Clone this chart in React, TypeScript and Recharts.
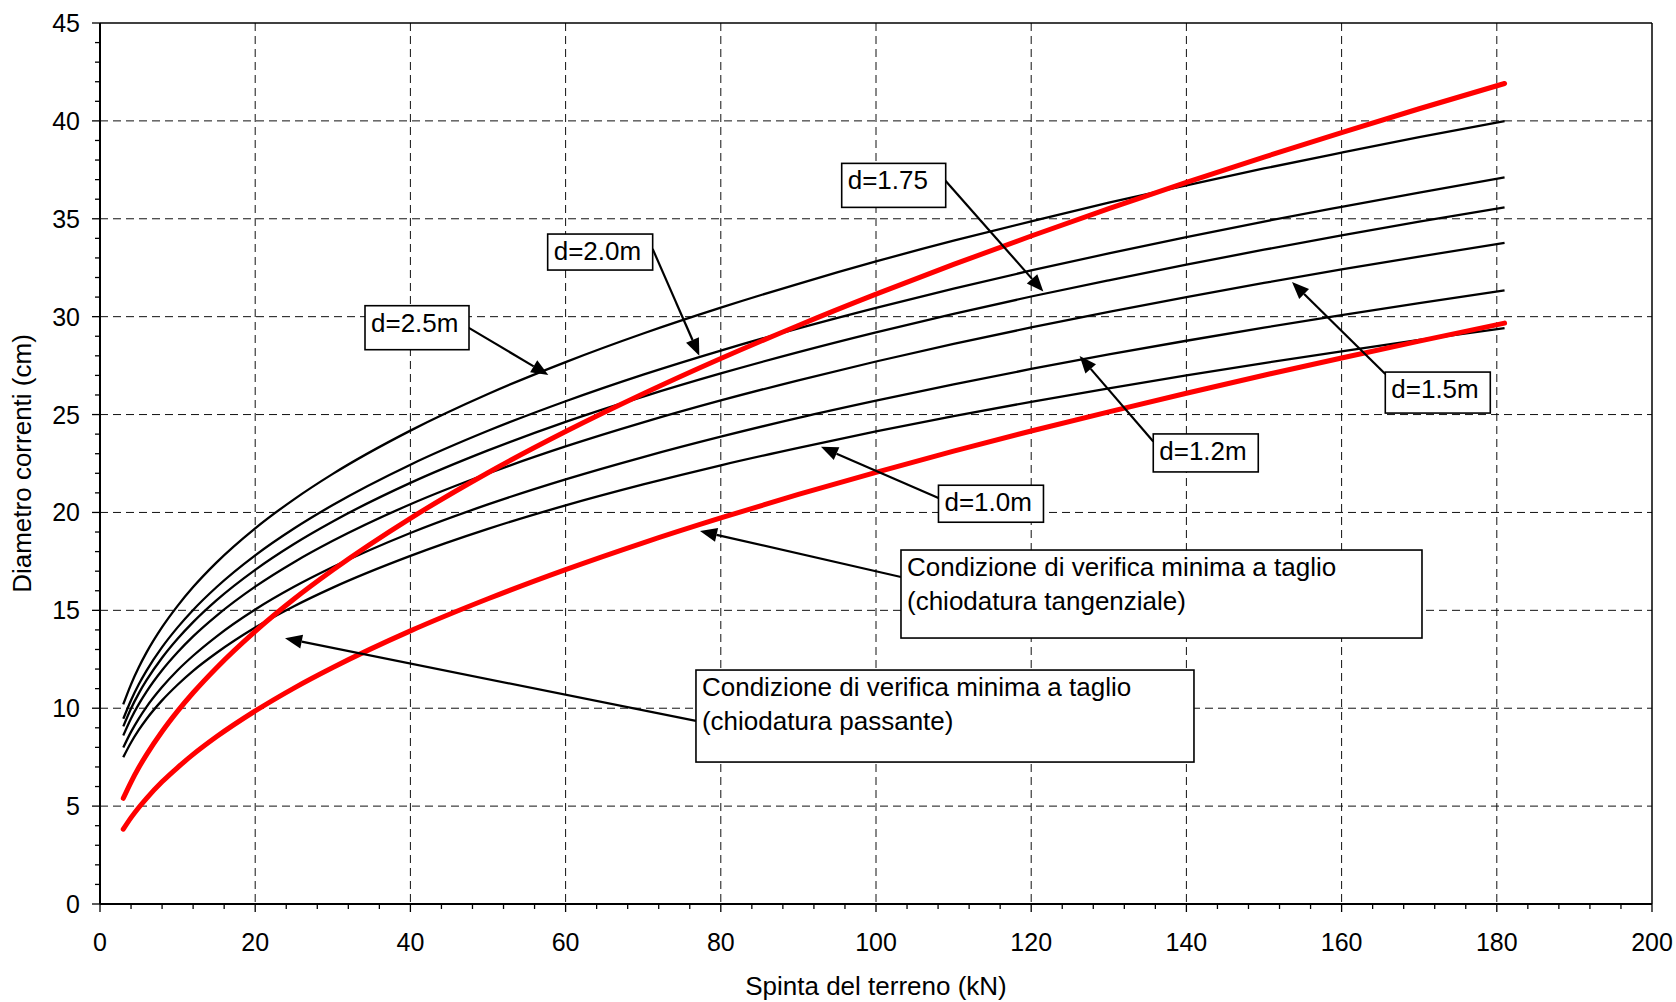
import React from "react";
import {
  LineChart,
  Line,
  XAxis,
  YAxis,
  CartesianGrid,
  ReferenceLine,
  ReferenceDot,
} from "recharts";

const FONT = "'Liberation Sans', Arial, sans-serif";

// spinta del terreno (kN)
const spinta = [3, 4, 5, 6, 8, 10, 12, 15, 20, 25, 30, 40, 50, 60, 70, 80, 90, 100, 110, 120, 130, 140, 150, 160, 170, 181];

// diametro correnti (cm) per interasse d
const d25 = [10.2, 11.22, 12.09, 12.85, 14.14, 15.23, 16.19, 17.44, 19.19, 20.67, 21.97, 24.18, 26.05, 27.68, 29.14, 30.46, 31.68, 32.82, 33.88, 34.87, 35.82, 36.71, 37.57, 38.38, 39.17, 39.99];
const d20 = [9.46, 10.41, 11.22, 11.92, 13.12, 14.13, 15.02, 16.18, 17.81, 19.18, 20.38, 22.44, 24.17, 25.68, 27.04, 28.27, 29.4, 30.45, 31.43, 32.36, 33.23, 34.06, 34.86, 35.61, 36.34, 37.11];
const d175 = [9.07, 9.99, 10.76, 11.43, 12.58, 13.55, 14.4, 15.51, 17.07, 18.39, 19.54, 21.51, 23.17, 24.63, 25.92, 27.1, 28.19, 29.2, 30.14, 31.03, 31.86, 32.66, 33.42, 34.15, 34.85, 35.58];
const d15 = [8.61, 9.48, 10.21, 10.85, 11.94, 12.86, 13.67, 14.72, 16.21, 17.46, 18.55, 20.42, 21.99, 23.37, 24.6, 25.72, 26.75, 27.71, 28.61, 29.45, 30.24, 31.0, 31.72, 32.41, 33.07, 33.77];
const d12 = [7.99, 8.79, 9.47, 10.07, 11.08, 11.94, 12.68, 13.66, 15.04, 16.2, 17.21, 18.95, 20.41, 21.69, 22.83, 23.87, 24.83, 25.71, 26.54, 27.33, 28.07, 28.77, 29.44, 30.08, 30.69, 31.34];
const d10 = [7.5, 8.25, 8.89, 9.45, 10.4, 11.2, 11.91, 12.82, 14.12, 15.21, 16.16, 17.78, 19.16, 20.36, 21.43, 22.41, 23.3, 24.14, 24.92, 25.65, 26.34, 27.0, 27.63, 28.23, 28.81, 29.42];

// condizioni di verifica minima a taglio
const tangenziale = [5.4, 6.23, 6.97, 7.63, 8.81, 9.85, 10.79, 12.06, 13.93, 15.58, 17.06, 19.7, 22.03, 24.13, 26.06, 27.86, 29.55, 31.15, 32.67, 34.12, 35.52, 36.86, 38.15, 39.4, 40.62, 41.91];
const passante = [3.82, 4.41, 4.93, 5.4, 6.24, 6.97, 7.64, 8.54, 9.86, 11.03, 12.08, 13.95, 15.59, 17.08, 18.45, 19.72, 20.92, 22.05, 23.13, 24.16, 25.14, 26.09, 27.01, 27.89, 28.75, 29.67];

// axis ticks
const xTicks = Array.from({ length: 51 }, (_, i) => i * 4);
const yTicks = Array.from({ length: 46 }, (_, i) => i);
const xGrid = [20, 40, 60, 80, 100, 120, 140, 160, 180];
const yGrid = [5, 10, 15, 20, 25, 30, 35, 40];

// annotations (data units)
const noteText = [
  ["d=2.5m"],
  ["d=2.0m"],
  ["d=1.75"],
  ["d=1.5m"],
  ["d=1.2m"],
  ["d=1.0m"],
  ["Condizione di verifica minima a taglio", "(chiodatura tangenziale)"],
  ["Condizione di verifica minima a taglio", "(chiodatura passante)"],
];
const noteBox = [
  [34.15, 30.56],
  [57.69, 34.22],
  [95.58, 37.83],
  [165.63, 27.17],
  [135.73, 24.01],
  [108.05, 21.39],
  [103.22, 18.08],
  [76.8, 11.95],
];
const arrowFrom = [
  [47.26, 29.49],
  [71.22, 33.46],
  [108.67, 37.07],
  [165.63, 27.07],
  [135.73, 23.62],
  [108.05, 20.74],
  [103.22, 16.7],
  [76.8, 9.35],
];
const arrowTo = [
  [57.77, 27.02],
  [77.23, 28.01],
  [121.56, 31.28],
  [153.61, 31.77],
  [126.24, 27.99],
  [92.91, 23.35],
  [77.32, 19.05],
  [23.84, 13.57],
];
// box sizes in px
const boxSize = [
  [104, 44],
  [105, 36],
  [104, 44],
  [105, 41],
  [105, 38],
  [105, 37],
  [521, 88],
  [498, 92],
];

const rows = spinta.map((x, i) => ({
  x,
  d25: d25[i],
  d20: d20[i],
  d175: d175[i],
  d15: d15[i],
  d12: d12[i],
  d10: d10[i],
  tangenziale: tangenziale[i],
  passante: passante[i],
}));

const XTick = (props: any) => {
  const { x, y, payload } = props;
  const major = payload.value % 20 === 0;
  return (
    <g>
      <line x1={x} y1={y} x2={x} y2={y + (major ? 8 : 5)} stroke="#000" strokeWidth={1.3} />
      {major && (
        <text x={x} y={y + 47} textAnchor="middle" fontSize={25} fontFamily={FONT} fill="#000">
          {payload.value}
        </text>
      )}
    </g>
  );
};

const YTick = (props: any) => {
  const { x, y, payload } = props;
  const major = payload.value % 5 === 0;
  return (
    <g>
      <line x1={x - (major ? 8 : 5)} y1={y} x2={x} y2={y} stroke="#000" strokeWidth={1.3} />
      {major && (
        <text x={x - 20} y={y + 9} textAnchor="end" fontSize={25} fontFamily={FONT} fill="#000">
          {payload.value}
        </text>
      )}
    </g>
  );
};

const Arrow = (p: any) => {
  const { x1, y1, x2, y2 } = p;
  const a = Math.atan2(y2 - y1, x2 - x1);
  const len = 17;
  const w = 7;
  const bx = x2 - len * Math.cos(a);
  const by = y2 - len * Math.sin(a);
  const pts = `${x2},${y2} ${bx - w * Math.sin(a)},${by + w * Math.cos(a)} ${bx + w * Math.sin(a)},${by - w * Math.cos(a)}`;
  return (
    <g>
      <line x1={x1} y1={y1} x2={bx} y2={by} stroke="#000" strokeWidth={2.2} />
      <polygon points={pts} fill="#000" />
    </g>
  );
};

const makeBox = (lines: string[], w: number, h: number) => (p: any) => (
  <g>
    <rect x={p.cx} y={p.cy} width={w} height={h} fill="#fff" stroke="#000" strokeWidth={1.6} />
    {lines.map((t, k) => (
      <text
        key={k}
        x={p.cx + 6}
        y={p.cy + 26 + k * 34}
        fontSize={26}
        fontFamily={FONT}
        fill="#000"
      >
        {t}
      </text>
    ))}
  </g>
);

const blackKeys = ["d25", "d20", "d175", "d15", "d12", "d10"];

export default function App() {
  return (
    <div style={{ position: "absolute", left: 0, top: 0, background: "#fff" }}>
      <LineChart
        width={1676}
        height={1002}
        data={rows}
        margin={{ top: 23, right: 24, bottom: 8, left: 10 }}
      >
        <CartesianGrid
          stroke="#111"
          strokeWidth={1}
          strokeDasharray="8 5"
          horizontalValues={yGrid}
          verticalValues={xGrid}
        />
        <XAxis
          dataKey="x"
          type="number"
          domain={[0, 200]}
          ticks={xTicks}
          interval={0}
          height={90}
          tickSize={0}
          tickMargin={0}
          tickLine={false}
          tick={<XTick />}
          axisLine={{ stroke: "#000", strokeWidth: 2 }}
          label={{
            content: (lp: any) => {
              const vb = lp.viewBox || { x: 100, y: 904, width: 1552, height: 90 };
              return (
                <text
                  x={vb.x + vb.width / 2}
                  y={vb.y + 91}
                  textAnchor="middle"
                  fontSize={26}
                  fontFamily={FONT}
                  fill="#000"
                >
                  Spinta del terreno (kN)
                </text>
              );
            },
          }}
        />
        <YAxis
          type="number"
          domain={[0, 45]}
          ticks={yTicks}
          interval={0}
          width={90}
          tickSize={0}
          tickMargin={0}
          tickLine={false}
          tick={<YTick />}
          axisLine={{ stroke: "#000", strokeWidth: 2 }}
          label={{
            content: (lp: any) => {
              const vb = lp.viewBox || { x: 10, y: 23, width: 90, height: 881 };
              const cx = vb.x + 21;
              const cy = vb.y + vb.height / 2;
              return (
                <text
                  x={cx}
                  y={cy}
                  transform={`rotate(-90 ${cx} ${cy})`}
                  textAnchor="middle"
                  fontSize={26}
                  fontFamily={FONT}
                  fill="#000"
                >
                  Diametro correnti (cm)
                </text>
              );
            },
          }}
        />
        <ReferenceLine y={45} stroke="#000" strokeWidth={1.5} />
        <ReferenceLine x={200} stroke="#000" strokeWidth={1.5} />
        {blackKeys.map((k) => (
          <Line
            key={k}
            type="monotone"
            dataKey={k}
            stroke="#000"
            strokeWidth={2.3}
            dot={false}
            activeDot={false}
            isAnimationActive={false}
          />
        ))}
        <Line
          type="monotone"
          dataKey="tangenziale"
          stroke="#ff0000"
          strokeWidth={5}
          strokeLinecap="round"
          dot={false}
          activeDot={false}
          isAnimationActive={false}
        />
        <Line
          type="monotone"
          dataKey="passante"
          stroke="#ff0000"
          strokeWidth={5}
          strokeLinecap="round"
          dot={false}
          activeDot={false}
          isAnimationActive={false}
        />
        {arrowFrom.map((f, i) => (
          <ReferenceLine
            key={`a${i}`}
            segment={[
              { x: f[0], y: f[1] },
              { x: arrowTo[i][0], y: arrowTo[i][1] },
            ]}
            ifOverflow="visible"
            shape={Arrow}
          />
        ))}
        {noteBox.map((b, i) => (
          <ReferenceDot
            key={`b${i}`}
            x={b[0]}
            y={b[1]}
            r={0}
            ifOverflow="visible"
            shape={makeBox(noteText[i], boxSize[i][0], boxSize[i][1])}
          />
        ))}
      </LineChart>
    </div>
  );
}
